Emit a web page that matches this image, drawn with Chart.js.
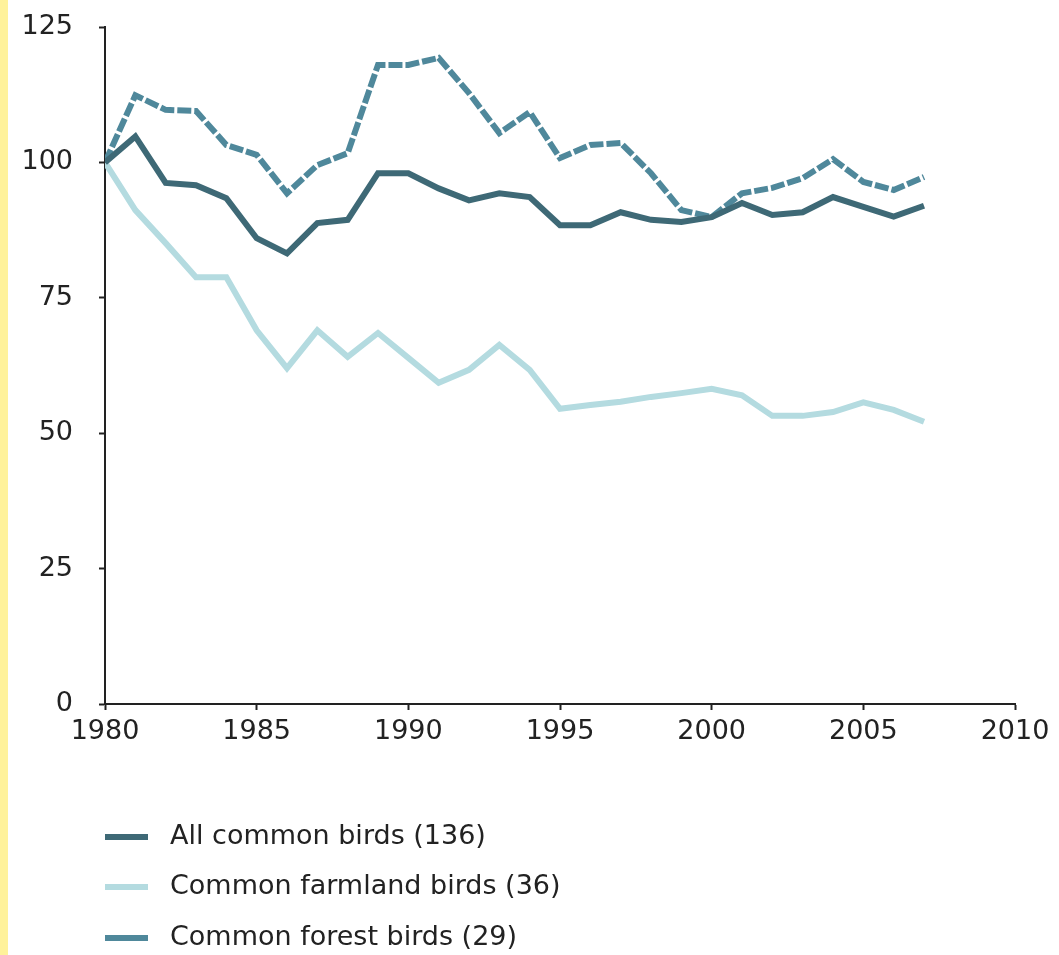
<!DOCTYPE html>
<html>
<head>
<meta charset="utf-8">
<script src="https://cdn.jsdelivr.net/npm/chart.js@4/dist/chart.umd.min.js"></script>
<style>
  html, body { margin: 0; padding: 0; background: #ffffff; }
  #wrap { position: relative; width: 1059px; height: 955px; }
</style>
</head>
<body>
<div id="wrap"><canvas id="c" width="1059" height="955"></canvas></div>
<script>
const years = [1980,1981,1982,1983,1984,1985,1986,1987,1988,1989,1990,1991,1992,1993,1994,1995,1996,1997,1998,1999,2000,2001,2002,2003,2004,2005,2006,2007];
const allBirds = [100,104.8,96.2,95.8,93.4,86.0,83.2,88.8,89.4,98.0,98.0,95.2,93.0,94.3,93.6,88.4,88.4,90.8,89.4,89.0,89.9,92.5,90.3,90.8,93.6,91.8,90.0,92.0];
const farmlandBirds = [100,91.2,85.1,78.8,78.8,69.0,62.0,69.0,64.1,68.5,63.9,59.3,61.7,66.3,61.7,54.5,55.2,55.8,56.7,57.4,58.2,57.0,53.2,53.2,53.9,55.7,54.3,52.1];
const forestBirds = [100,112.4,109.7,109.5,103.2,101.4,94.3,99.5,101.7,118.0,118.0,119.3,112.8,105.4,109.3,100.8,103.2,103.6,98.0,91.2,89.9,94.3,95.3,97.1,100.6,96.4,94.9,97.3];
const seriesLabels = ['All common birds (136)', 'Common farmland birds (36)', 'Common forest birds (29)'];
const xTicks = [1980,1985,1990,1995,2000,2005,2010];
const yTicks = [0,25,50,75,100,125];

const toXY = arr => arr.map((v, i) => ({ x: years[i], y: v }));
const FONT = 'DejaVu Sans, Verdana, sans-serif';

const bgPlugin = {
  id: 'bg',
  beforeDraw(chart) {
    const ctx = chart.ctx;
    ctx.save();
    ctx.fillStyle = '#ffffff';
    ctx.fillRect(0, 0, chart.width, chart.height);
    ctx.fillStyle = '#fff29a';
    ctx.fillRect(0, 0, 8, chart.height);
    ctx.restore();
  }
};

const legendPlugin = {
  id: 'customLegend',
  afterDraw(chart) {
    const ctx = chart.ctx;
    const rows = [837, 887, 938];
    ctx.save();
    chart.data.datasets.forEach((ds, i) => {
      const y = rows[i];
      ctx.strokeStyle = ds.borderColor;
      ctx.lineWidth = 6;
      ctx.setLineDash([]);
      ctx.beginPath();
      ctx.moveTo(105, y);
      ctx.lineTo(148, y);
      ctx.stroke();
      ctx.fillStyle = '#222222';
      ctx.font = '27px ' + FONT;
      ctx.textBaseline = 'middle';
      ctx.textAlign = 'left';
      ctx.fillText(ds.label, 170, y);
    });
    ctx.restore();
  }
};

new Chart(document.getElementById('c'), {
  type: 'line',
  data: {
    datasets: [
      { label: seriesLabels[0], data: toXY(allBirds), borderColor: '#3e6976', borderWidth: 6, pointRadius: 0, tension: 0, fill: false, order: 1 },
      { label: seriesLabels[1], data: toXY(farmlandBirds), borderColor: '#b4dbe0', borderWidth: 6, pointRadius: 0, tension: 0, fill: false, order: 3 },
      { label: seriesLabels[2], data: toXY(forestBirds), borderColor: '#4f889b', borderWidth: 6, borderDash: [14, 3], pointRadius: 0, tension: 0, fill: false, order: 2 }
    ]
  },
  options: {
    responsive: false,
    animation: false,
    events: [],
    layout: { padding: { left: 0, right: 44, top: 0, bottom: 0 } },
    plugins: { legend: { display: false }, tooltip: { enabled: false } },
    scales: {
      x: {
        type: 'linear',
        min: 1980, max: 2010,
        afterBuildTicks(scale) { scale.ticks = xTicks.map(v => ({ value: v })); },
        afterFit(scale) { scale.height = 955 - 704; },
        grid: { drawOnChartArea: false, drawTicks: true, tickLength: 6, tickWidth: 2, color: '#222222' },
        border: { display: true, color: '#222222', width: 2 },
        ticks: { color: '#222222', font: { family: FONT, size: 27 }, padding: 6, maxRotation: 0, callback: v => String(v) }
      },
      y: {
        min: 0, max: 125,
        afterBuildTicks(scale) { scale.ticks = yTicks.map(v => ({ value: v })); },
        afterFit(scale) { scale.width = 105; scale.paddingTop = 27; scale.paddingBottom = 16; },
        grid: { drawOnChartArea: false, drawTicks: true, tickLength: 6, tickWidth: 2, color: '#222222' },
        border: { display: true, color: '#222222', width: 2 },
        ticks: { color: '#222222', font: { family: FONT, size: 27 }, padding: 26, callback: v => String(v) }
      }
    }
  },
  plugins: [bgPlugin, legendPlugin]
});
</script>
</body>
</html>
